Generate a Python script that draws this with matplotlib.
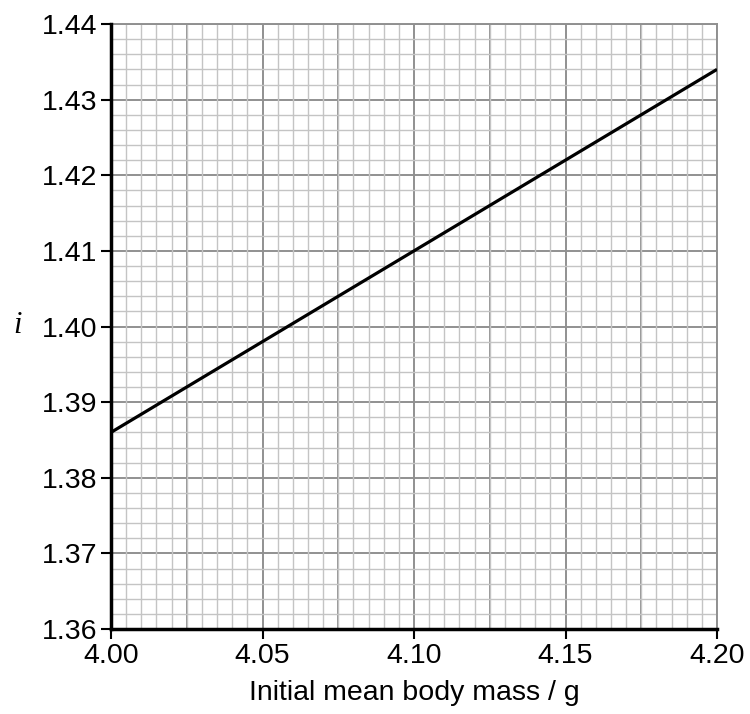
import numpy as np
import matplotlib.pyplot as plt
from matplotlib.ticker import MultipleLocator

# line end points
mass = [4.00, 4.20]
i_vals = [1.386, 1.434]

x_ticks = [4.00, 4.05, 4.10, 4.15, 4.20]
x_labels = ["4.00", "4.05", "4.10", "4.15", "4.20"]
y_ticks = [1.36, 1.37, 1.38, 1.39, 1.40, 1.41, 1.42, 1.43, 1.44]
y_labels = ["1.36", "1.37", "1.38", "1.39", "1.40", "1.41", "1.42", "1.43", "1.44"]

plt.rcParams["font.family"] = ["Liberation Sans", "DejaVu Sans"]

W, H = 750, 714
fig = plt.figure(figsize=(W / 100, H / 100), dpi=100)
ax = fig.add_axes([111 / W, 1 - 629 / H, (717 - 111) / W, (629 - 24) / H])

ax.set_xlim(4.00, 4.20)
ax.set_ylim(1.36, 1.44)

# graph paper grid
ax.xaxis.set_minor_locator(MultipleLocator(0.005))
ax.yaxis.set_minor_locator(MultipleLocator(0.002))
for v in np.arange(4.00, 4.2001, 0.025):
    ax.axvline(v, color="#909090", lw=1.4, zorder=1)
for v in np.arange(1.36, 1.4401, 0.01):
    ax.axhline(v, color="#909090", lw=1.4, zorder=1)
ax.grid(which="minor", color="#c4c4c4", lw=1.0, zorder=0)

ax.plot(mass, i_vals, color="black", lw=2.3, zorder=3, solid_capstyle="butt")

ax.set_xticks(x_ticks)
ax.set_xticklabels(x_labels)
ax.set_yticks(y_ticks)
ax.set_yticklabels(y_labels)
ax.tick_params(which="major", direction="out", length=7, width=1.5,
               labelsize=20.5, colors="black", pad=3)
ax.tick_params(which="minor", length=0)

for s in ["left", "bottom"]:
    ax.spines[s].set_linewidth(2.5)
    ax.spines[s].set_color("black")
    ax.spines[s].set_zorder(4)
for s in ["top", "right"]:
    ax.spines[s].set_linewidth(1.4)
    ax.spines[s].set_color("#909090")

ax.set_xlabel("Initial mean body mass / g", fontsize=20.5, labelpad=8)
fig.text(18 / W, 1 - 326 / H, "i", fontsize=22, family="Liberation Serif",
         style="italic", ha="center", va="center")

fig.savefig("out.png", dpi=100)
